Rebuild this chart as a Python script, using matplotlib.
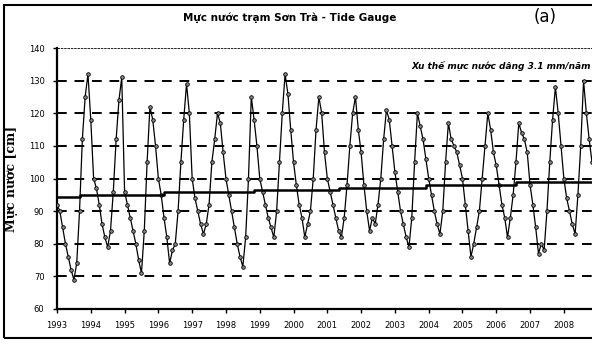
import matplotlib
matplotlib.use("Agg")
import matplotlib.pyplot as plt
from matplotlib.patches import Rectangle
import numpy as np

# ---- data ----
years = list(range(1993, 2009))
tick_labels = [str(y) for y in years]

wl_1993 = [92, 90, 85, 80, 76, 72, 69, 74, 90, 112, 125, 132]
wl_1994 = [118, 100, 97, 92, 86, 82, 79, 84, 96, 112, 124, 131]
wl_1995 = [96, 92, 88, 84, 80, 75, 71, 84, 105, 122, 118, 110]
wl_1996 = [100, 95, 88, 82, 74, 78, 80, 90, 105, 118, 129, 120]
wl_1997 = [100, 94, 90, 86, 83, 86, 92, 105, 112, 120, 117, 108]
wl_1998 = [100, 95, 90, 85, 80, 76, 73, 82, 100, 125, 118, 110]
wl_1999 = [100, 96, 92, 88, 85, 82, 90, 105, 120, 132, 126, 115]
wl_2000 = [105, 98, 92, 88, 82, 86, 90, 100, 115, 125, 120, 108]
wl_2001 = [100, 96, 92, 88, 84, 82, 88, 98, 110, 120, 125, 115]
wl_2002 = [108, 98, 90, 84, 88, 86, 92, 100, 112, 121, 118, 110]
wl_2003 = [102, 96, 90, 86, 82, 79, 88, 105, 120, 116, 112, 106]
wl_2004 = [100, 95, 90, 86, 83, 90, 105, 117, 112, 110, 108, 104]
wl_2005 = [100, 92, 84, 76, 80, 85, 90, 100, 110, 120, 115, 108]
wl_2006 = [104, 98, 92, 88, 82, 88, 95, 105, 117, 114, 112, 108]
wl_2007 = [98, 92, 85, 77, 80, 78, 90, 105, 118, 128, 120, 110]
wl_2008 = [100, 94, 90, 86, 83, 95, 110, 130, 120, 112, 105, 100]

water_level = (wl_1993 + wl_1994 + wl_1995 + wl_1996 + wl_1997 + wl_1998 +
               wl_1999 + wl_2000 + wl_2001 + wl_2002 + wl_2003 + wl_2004 +
               wl_2005 + wl_2006 + wl_2007 + wl_2008)

# stepped trend line (month index breakpoints, level in cm)
trend_breaks = [0, 8, 38, 70, 100, 131, 163, 192]
trend_levels = [94.3, 94.9, 95.8, 96.4, 97.1, 98.0, 99.0]

y_ticks = [60, 70, 80, 90, 100, 110, 120, 130, 140]

# ---- figure ----
fig = plt.figure(figsize=(5.92, 3.45), dpi=100)
ax = fig.add_axes([57/592, 1-309/345, 1-57/592, (309-48)/345])

months = np.arange(len(water_level))
ax.plot(months, water_level, color='black', lw=0.9, marker='o', ms=2.6,
        mfc='#888888', mec='black', mew=0.6, zorder=3)

tx, ty = [], []
for i, lv in enumerate(trend_levels):
    tx += [trend_breaks[i], trend_breaks[i+1]]
    ty += [lv, lv]
ax.plot(tx, ty, color='black', lw=1.8, zorder=4)

ax.set_ylim(60, 140)
ax.set_xlim(0, 190)
ax.set_yticks(y_ticks)
ax.set_yticklabels([str(v) for v in y_ticks], fontsize=6)
ax.set_xticks([12*i for i in range(len(years))])
ax.set_xticklabels(tick_labels, fontsize=6)
ax.tick_params(axis='both', length=3, width=1, pad=6)

for v in y_ticks[1:-1]:
    ax.axhline(v, color='black', lw=1.4, ls=(0, (5, 4)), zorder=1)
ax.axhline(140, color='black', lw=0.6, ls=(0, (3, 1)), zorder=1)

for s in ['top', 'right']:
    ax.spines[s].set_visible(False)
ax.spines['left'].set_linewidth(1.6)
ax.spines['bottom'].set_linewidth(1.6)

ax.set_ylabel('Mực nước [cm]', fontsize=9, fontweight='bold',
              family='DejaVu Serif', labelpad=8)

fig.text(290/592, 1-18/345, 'Mực nước trạm Sơn Trà - Tide Gauge',
         ha='center', va='center', fontsize=7.5, fontweight='bold')
fig.text(545/592, 1-17/345, '(a)', ha='center', va='center', fontsize=12)
fig.text(591/592, 1-66/345, 'Xu thế mực nước dâng 3.1 mm/năm',
         ha='right', va='center', fontsize=6.5, style='italic', fontweight='bold')

fig.add_artist(Rectangle((4/592, 1-338/345), 1.0, (338-5)/345,
                         transform=fig.transFigure, fill=False,
                         edgecolor='black', lw=1.5, clip_on=False))

fig.savefig('out.png', dpi=100)
